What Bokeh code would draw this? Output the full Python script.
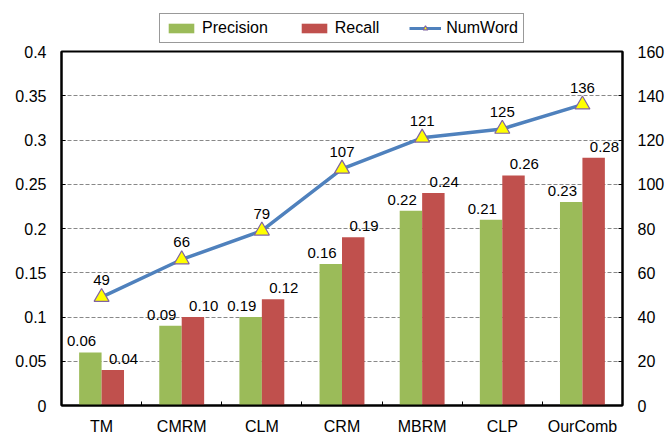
import numpy as np
from bokeh.plotting import figure
from bokeh.layouts import column
from bokeh.models import (ColumnDataSource, Range1d, LinearAxis, FixedTicker,
                          Legend, LegendItem)
from bokeh.transform import dodge
from bokeh.core.properties import value
from bokeh.embed import file_html
from bokeh.resources import INLINE

categories = ["TM", "CMRM", "CLM", "CRM", "MBRM", "CLP", "OurComb"]
precision = [0.06, 0.09, 0.10, 0.16, 0.22, 0.21, 0.23]
recall = [0.04, 0.10, 0.12, 0.19, 0.24, 0.26, 0.28]
numword = [49, 66, 79, 107, 121, 125, 136]
precision_labels = ["0.06", "0.09", "0.19", "0.16", "0.22", "0.21", "0.23"]
recall_labels = ["0.04", "0.10", "0.12", "0.19", "0.24", "0.26", "0.28"]
left_ticks = [0, 0.05, 0.1, 0.15, 0.2, 0.25, 0.3, 0.35, 0.4]
left_tick_labels = ["0", "0.05", "0.1", "0.15", "0.2", "0.25", "0.3", "0.35", "0.4"]
right_ticks = [0, 20, 40, 60, 80, 100, 120, 140, 160]
series_names = ["Precision", "Recall", "NumWord"]

FONT = "Liberation Sans"
GREEN = "#9BBB59"
RED = "#C0504D"
BLUE = "#4F81BD"
TRI_FILL = "#FFFF00"
TRI_LINE = "#8064A2"

FW, FH = 561, 354
W = 650

n = len(categories)
xc = np.arange(n) + 0.5
src = ColumnDataSource(dict(
    x=xc, precision=precision, recall=recall, numword=numword,
    plab=precision_labels, rlab=recall_labels,
    nlab=[str(v) for v in numword],
))

p = figure(frame_width=FW, frame_height=FH, output_backend="svg", toolbar_location=None,
           x_range=Range1d(0, n), y_range=Range1d(0, 0.4),
           min_border_left=61, min_border_right=20, min_border_top=8,
           min_border_bottom=10)
p.extra_y_ranges = {"num": Range1d(0, 160)}

bw = 0.28
p.vbar(x=dodge("x", -bw / 2), top="precision", width=bw, source=src,
       fill_color=GREEN, line_color=None)
p.vbar(x=dodge("x", bw / 2), top="recall", width=bw, source=src,
       fill_color=RED, line_color=None)
p.line(x="x", y="numword", source=src, y_range_name="num",
       line_color=BLUE, line_width=3.5)
p.scatter(x="x", y="numword", source=src, y_range_name="num",
          marker="triangle", size=15, fill_color=TRI_FILL,
          line_color=TRI_LINE, line_width=1.2)

p.text(x="x", y="precision", text="plab", source=src, x_offset=-20, y_offset=-6,
       text_align="center", text_baseline="bottom",
       text_font=value(FONT), text_font_size="15px", text_color="#000000")
p.text(x="x", y="recall", text="rlab", source=src, x_offset=22, y_offset=-6,
       text_align="center", text_baseline="bottom",
       text_font=value(FONT), text_font_size="15px", text_color="#000000")
p.text(x="x", y="numword", text="nlab", source=src, y_range_name="num",
       y_offset=-12, text_align="center", text_baseline="bottom",
       text_font=value(FONT), text_font_size="15px", text_color="#000000")

# axes
p.xaxis.ticker = FixedTicker(ticks=list(xc), minor_ticks=list(np.arange(1, n)))
p.xaxis.major_label_overrides = {float(v): c for v, c in zip(xc, categories)}
p.xaxis.major_tick_line_color = None
p.xaxis.minor_tick_in = 4
p.xaxis.minor_tick_out = 0
p.xaxis.minor_tick_line_color = "black"
p.xaxis.axis_line_color = "black"
p.xaxis.axis_line_width = 2
p.xaxis.major_label_standoff = 6

p.yaxis.ticker = FixedTicker(ticks=left_ticks)
p.yaxis.major_label_overrides = {t: l for t, l in zip(left_ticks, left_tick_labels)}
p.yaxis.major_tick_in = 4
p.yaxis.major_tick_out = 0
p.yaxis.minor_tick_line_color = None
p.yaxis.axis_line_width = 2
p.yaxis.major_label_standoff = 15

ra = LinearAxis(y_range_name="num", ticker=FixedTicker(ticks=right_ticks))
ra.major_tick_in = 4
ra.major_tick_out = 0
ra.minor_tick_line_color = None
ra.axis_line_width = 2
ra.major_label_standoff = 15
p.add_layout(ra, "right")

for ax in [p.xaxis[0], p.yaxis[0], ra]:
    ax.major_label_text_font = FONT
    ax.major_label_text_font_size = "16px"
    ax.major_label_text_color = "#000000"

p.xgrid.grid_line_color = None
p.ygrid.ticker = FixedTicker(ticks=left_ticks)
p.ygrid.grid_line_color = "#888888"
p.ygrid.grid_line_dash = "4 2"
p.ygrid.grid_line_width = 1

p.outline_line_color = "black"
p.outline_line_width = 2
p.outline_line_alpha = 1

# legend strip (separate small figure; its glyphs sit outside its visible range)
LH = 43
lg = figure(width=W, height=LH, output_backend="svg", toolbar_location=None,
            x_range=Range1d(0, 1), y_range=Range1d(0, 1),
            min_border=0, x_axis_type=None, y_axis_type=None)
lg.outline_line_color = None
lg.grid.visible = False
hidden = ColumnDataSource(dict(x=[-10, -11], y=[-10, -11]))
lp = lg.vbar(x="x", top="y", width=0.1, source=hidden, fill_color=GREEN, line_color=None)
lr = lg.vbar(x="x", top="y", width=0.1, source=hidden, fill_color=RED, line_color=None)
ll = lg.line(x="x", y="y", source=hidden, line_color=BLUE, line_width=3)
ls = lg.scatter(x="x", y="y", source=hidden, marker="triangle", size=12,
                fill_color=TRI_FILL, line_color=TRI_LINE, line_width=1.2)
legend = Legend(items=[
    LegendItem(label=series_names[0], renderers=[lp], index=0),
    LegendItem(label=series_names[1], renderers=[lr], index=0),
    LegendItem(label=series_names[2], renderers=[ll, ls], index=0),
], orientation="horizontal", location=(98, 0))
legend.label_text_font = FONT
legend.label_text_font_size = "16px"
legend.label_text_color = "#000000"
legend.glyph_width = 32
legend.glyph_height = 12
legend.spacing = 30
legend.padding = 5
legend.margin = 0
legend.border_line_color = "#333333"
legend.border_line_width = 1.5
legend.label_standoff = 5
legend.background_fill_alpha = 1
lg.add_layout(legend, "center")

layout = column(lg, p, spacing=0)
open("out.html", "w").write(file_html(layout, INLINE))
